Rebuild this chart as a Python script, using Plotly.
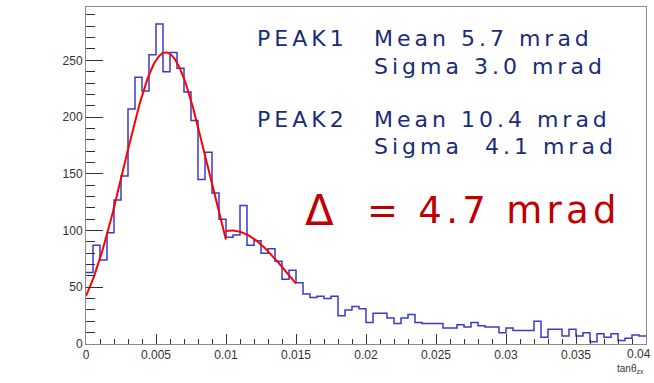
import numpy as np
import plotly.graph_objects as go

# Histogram of tan(theta_zx): 80 bins of width 0.0005 from 0 to 0.04
X_MIN = 0.0
BIN_WIDTH = 0.0005
counts = [
    63, 87, 74, 98, 127, 148, 207, 235, 223, 255,
    282, 240, 257, 243, 222, 197, 145, 169, 133, 110,
    94, 96, 122, 87, 91, 80, 84, 73, 57, 65,
    54, 44, 41, 42, 40, 42, 25, 30, 33, 31,
    19, 27, 27, 23, 18, 23, 26, 19, 18, 18,
    18, 14, 14, 17, 15, 19, 16, 15, 15, 10,
    14, 12, 12, 12, 20, 6, 13, 13, 7, 13,
    7, 10, 2, 9, 6, 9, 3, 5, 8, 7,
]

# Gaussian fit results (mrad) and fitted amplitudes
peak1_mean, peak1_sigma, peak1_amp = 5.7, 3.0, 257
peak2_mean, peak2_sigma, peak2_amp = 10.4, 4.1, 100
fit1_range = (0.0, 0.010)
fit2_range = (0.010, 0.015)

x_ticks = [0, 0.005, 0.01, 0.015, 0.02, 0.025, 0.03, 0.035, 0.04]
x_tick_text = ["0", "0.005", "0.01", "0.015", "0.02", "0.025", "0.03", "0.035", ""]
x_last_label = "0.04"
y_ticks = [0, 50, 100, 150, 200, 250]

n_bins = len(counts)
edges = X_MIN + BIN_WIDTH * np.arange(n_bins + 1)
step_y = list(counts) + [counts[-1]]


def gauss(x, amp, mean_mrad, sigma_mrad):
    m = mean_mrad * 1e-3
    s = sigma_mrad * 1e-3
    return amp * np.exp(-0.5 * ((x - m) / s) ** 2)


fx1 = np.linspace(*fit1_range, 200)
fx2 = np.linspace(*fit2_range, 120)

fig = go.Figure()
fig.add_trace(go.Scatter(
    x=edges, y=step_y, mode="lines", line_shape="hv",
    line=dict(color="#3a3acb", width=1.5), hoverinfo="skip", showlegend=False,
))
fig.add_trace(go.Scatter(
    x=fx1, y=gauss(fx1, peak1_amp, peak1_mean, peak1_sigma), mode="lines",
    line=dict(color="#ff0000", width=2), showlegend=False,
))
fig.add_trace(go.Scatter(
    x=fx2, y=gauss(fx2, peak2_amp, peak2_mean, peak2_sigma), mode="lines",
    line=dict(color="#ff0000", width=2), showlegend=False,
))

# plot-area geometry in pixels, used to place the text boxes
W, H = 654, 383
L, R, T, B = 86, 646, 7, 344


def px(x):
    return (x - L) / (R - L)


def py(y):
    return (B - y) / (B - T)


def spaced(t, gap):
    return '<span style="letter-spacing:%gpx">%s</span>' % (gap, t)


navy = "#1a2c78"
txt_font = dict(family="DejaVu Sans", size=22, color=navy)
lines = [
    (255, 39, "PEAK1"),
    (372, 39, "Mean 5.7 mrad"),
    (372, 66, "Sigma 3.0 mrad"),
    (255, 119, "PEAK2"),
    (372, 119, "Mean 10.4 mrad"),
    (372, 146, "Sigma\u00a0\u00a04.1 mrad"),
]
for x0, y0, t in lines:
    fig.add_annotation(x=px(x0), y=py(y0), xref="paper", yref="paper",
                       text=spaced(t, 4), showarrow=False,
                       xanchor="left", yanchor="middle", font=txt_font)

red_font = dict(family="DejaVu Sans", size=37, color="#c00000")
fig.add_annotation(x=px(303), y=py(210), xref="paper", yref="paper",
                   text="\u0394", showarrow=False, xanchor="left", yanchor="middle",
                   font=dict(family="DejaVu Sans", size=42, color="#c00000"))
fig.add_annotation(x=px(365), y=py(210), xref="paper", yref="paper",
                   text=spaced("= 4.7 mrad", 4.3), showarrow=False,
                   xanchor="left", yanchor="middle", font=red_font)

axis_font = dict(family="Liberation Sans", size=12, color="#333")

# last x tick label, kept inside the page edge
fig.add_annotation(x=px(W - 1), y=py(354), xref="paper", yref="paper",
                   text=x_last_label, showarrow=False,
                   xanchor="right", yanchor="middle", font=axis_font)

fig.add_annotation(x=1.0, y=py(369), xref="paper", yref="paper",
                   text="tan\u03b8<sub>zx</sub>", showarrow=False,
                   xanchor="right", yanchor="middle",
                   font=dict(family="Liberation Sans", size=10, color="#333"))

fig.update_layout(
    width=W, height=H,
    margin=dict(l=L, r=W - R, t=T, b=H - B, pad=0, autoexpand=False),
    paper_bgcolor="white", plot_bgcolor="white",
    xaxis=dict(
        range=[0, 0.04], tickmode="array", tickvals=x_ticks, ticktext=x_tick_text,
        ticks="inside", ticklen=10, tickcolor="#333", tickwidth=1,
        minor=dict(tickmode="linear", tick0=0, dtick=0.001, ticks="inside",
                   ticklen=5, tickcolor="#333", tickwidth=1),
        showline=True, linecolor="#8a8a8a", linewidth=1, mirror=True,
        showgrid=False, zeroline=False, tickfont=axis_font,
        ticklabeloverflow="allow", automargin=False,
    ),
    yaxis=dict(
        range=[0, 297], tickmode="array", tickvals=y_ticks,
        ticks="inside", ticklen=17, tickcolor="#333", tickwidth=1,
        minor=dict(tickmode="linear", tick0=0, dtick=10, ticks="inside",
                   ticklen=9, tickcolor="#333", tickwidth=1),
        showline=True, linecolor="#8a8a8a", linewidth=1, mirror=True,
        showgrid=False, zeroline=False, tickfont=axis_font, automargin=False,
    ),
)

fig.write_html("out.html")
